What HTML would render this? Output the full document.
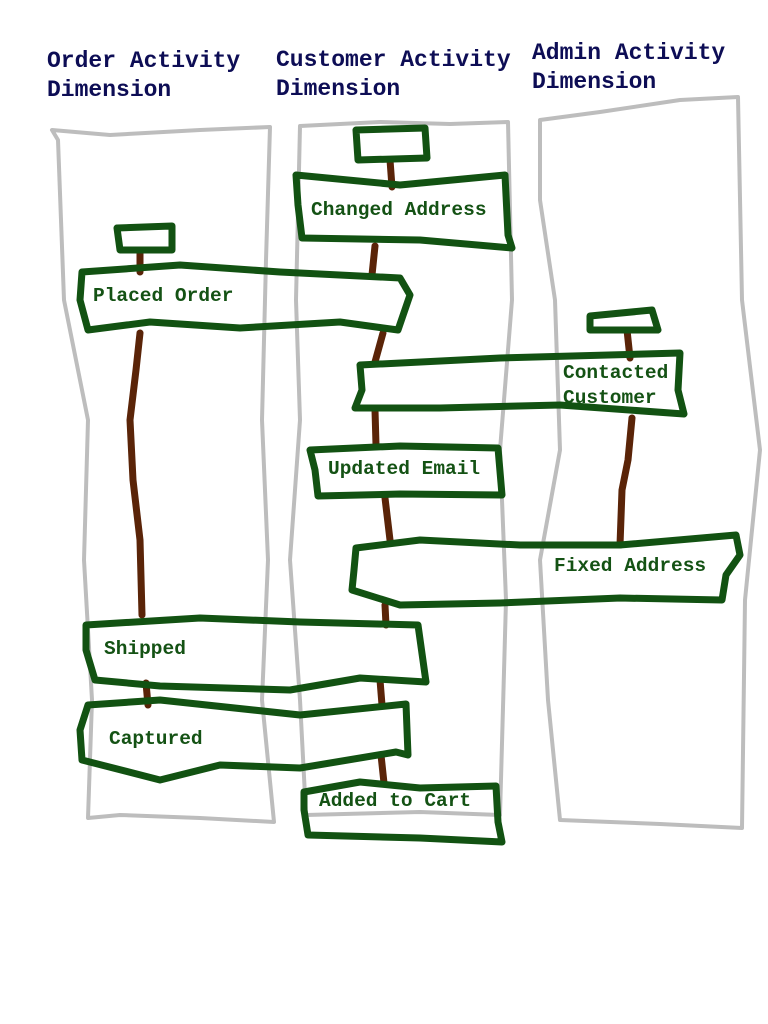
<!DOCTYPE html>
<html><head><meta charset="utf-8"><style>
html,body{margin:0;padding:0;background:#fff;}
svg{display:block;}
.h{font-family:"Liberation Mono",monospace;font-weight:bold;font-size:23px;fill:#0d0d55;}
.t{font-family:"Liberation Mono",monospace;font-weight:bold;font-size:19.5px;fill:#145214;}
.g{fill:none;stroke:#bdbdbd;stroke-width:4;stroke-linejoin:round;}
.b{fill:none;stroke:#125212;stroke-width:7;stroke-linejoin:round;stroke-linecap:round;}
.c{fill:none;stroke:#5a2408;stroke-width:7;stroke-linecap:round;stroke-linejoin:round;}
</style></head><body>
<svg width="768" height="1024" viewBox="0 0 768 1024" xmlns="http://www.w3.org/2000/svg">
<text class="h" x="47" y="67">Order Activity</text>
<text class="h" x="47" y="96">Dimension</text>
<text class="h" x="276" y="66">Customer Activity</text>
<text class="h" x="276" y="95">Dimension</text>
<text class="h" x="532" y="59">Admin Activity</text>
<text class="h" x="532" y="88">Dimension</text>

<!-- lanes -->
<path class="g" d="M52,130 L110,135 L200,130 L270,127 L266,260 L262,420 L268,560 L262,700 L274,822 L200,818 L120,815 L88,818 L92,700 L84,560 L88,420 L64,300 L58,140 Z"/>
<path class="g" d="M300,126 L380,122 L450,124 L508,122 L512,300 L500,450 L506,600 L500,815 L420,812 L306,815 L300,700 L290,560 L300,420 L296,300 Z"/>
<path class="g" d="M540,120 L600,112 L680,100 L738,97 L742,300 L760,450 L745,600 L742,828 L660,824 L560,820 L548,700 L540,560 L560,450 L555,300 L540,200 Z"/>

<!-- connectors -->
<path class="c" d="M390,160 L392,187"/>
<path class="c" d="M375,246 L372,275"/>
<path class="c" d="M140,252 L140,272"/>
<path class="c" d="M140,333 L136,370 L130,420 L133,480 L140,540 L142,615"/>
<path class="c" d="M383,333 L375,362"/>
<path class="c" d="M627,330 L630,358"/>
<path class="c" d="M375,410 L376,445"/>
<path class="c" d="M632,418 L628,460 L622,490 L620,545"/>
<path class="c" d="M385,498 L390,540"/>
<path class="c" d="M385,605 L386,625"/>
<path class="c" d="M146,683 L148,705"/>
<path class="c" d="M380,680 L382,705"/>
<path class="c" d="M381,755 L384,783"/>

<!-- boxes -->
<path class="b" d="M356,130 L425,128 L427,158 L358,160 Z"/>
<path class="b" d="M296,175 L400,185 L505,175 L508,235 L512,248 L420,240 L302,238 L298,205 Z"/>
<path class="b" d="M117,228 L172,226 L172,250 L120,250 Z"/>
<path class="b" d="M82,272 L180,265 L280,272 L400,278 L410,295 L398,330 L340,322 L240,328 L150,322 L88,330 L80,300 Z"/>
<path class="b" d="M590,316 L652,310 L658,330 L590,330 Z"/>
<path class="b" d="M360,365 L500,358 L680,353 L678,390 L684,414 L560,405 L440,408 L355,408 L362,390 Z"/>
<path class="b" d="M310,450 L400,446 L498,448 L502,495 L400,494 L318,496 L315,470 Z"/>
<path class="b" d="M356,548 L420,540 L520,545 L620,545 L736,535 L740,555 L726,575 L722,600 L620,598 L500,603 L400,605 L352,590 L354,570 Z"/>
<path class="b" d="M86,625 L200,618 L300,622 L418,625 L426,682 L360,678 L290,690 L160,686 L95,680 L86,650 Z"/>
<path class="b" d="M88,705 L160,700 L300,715 L406,704 L408,755 L396,752 L300,768 L220,765 L160,780 L82,760 L80,730 Z"/>
<path class="b" d="M304,792 L360,782 L420,788 L496,786 L498,822 L502,842 L420,838 L308,835 L304,810 Z"/>

<text class="t" x="311" y="215">Changed Address</text>
<text class="t" x="93" y="301">Placed Order</text>
<text class="t" x="563" y="378">Contacted</text>
<text class="t" x="563" y="403">Customer</text>
<text class="t" x="328" y="474">Updated Email</text>
<text class="t" x="554" y="571">Fixed Address</text>
<text class="t" x="104" y="654">Shipped</text>
<text class="t" x="109" y="744">Captured</text>
<text class="t" x="319" y="806">Added to Cart</text>
</svg>
</body></html>
